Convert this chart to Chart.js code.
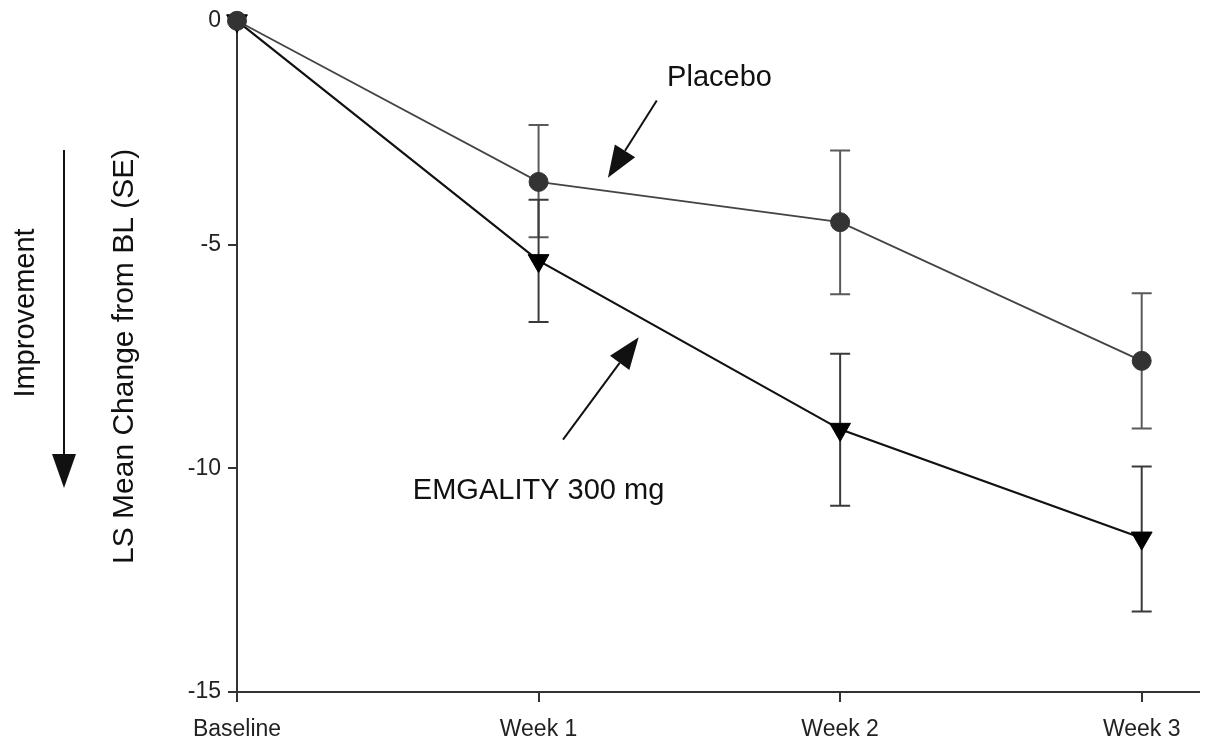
<!DOCTYPE html>
<html>
<head>
<meta charset="utf-8">
<script src="https://cdn.jsdelivr.net/npm/chart.js@4"></script>
<style>
  body { margin: 0; background: #fff; }
  canvas { display: block; }
</style>
</head>
<body>
<canvas id="chgChart" width="1212" height="744"></canvas>
<script>
// Visits on the x axis
const visits = ['Baseline', 'Week 1', 'Week 2', 'Week 3'];

// LS mean change from baseline, with SE bar ends
const placeboMean = [0, -3.6, -4.5, -7.6];
const placeboHigh = [0, -2.33, -2.9, -6.09];
const placeboLow  = [0, -4.84, -6.11, -9.11];

const emgalityMean = [0, -5.36, -9.13, -11.56];
const emgalityHigh = [0, -4.0, -7.44, -9.96];
const emgalityLow  = [0, -6.73, -10.84, -13.2];

const yTicks = [0, -5, -10, -15];

const FONT = 'Liberation Sans, Arial, Helvetica, sans-serif';

function toPoints(vals) {
    return vals.map((v, i) => ({ x: i, y: v }));
}

function arrow(ctx, x1, y1, x2, y2, headLen, headW) {
    const ang = Math.atan2(y2 - y1, x2 - x1);
    const bx = x2 - headLen * Math.cos(ang);
    const by = y2 - headLen * Math.sin(ang);
    ctx.beginPath();
    ctx.moveTo(x1, y1);
    ctx.lineTo(bx, by);
    ctx.stroke();
    ctx.beginPath();
    ctx.moveTo(x2, y2);
    ctx.lineTo(bx + headW / 2 * Math.sin(ang), by - headW / 2 * Math.cos(ang));
    ctx.lineTo(bx - headW / 2 * Math.sin(ang), by + headW / 2 * Math.cos(ang));
    ctx.closePath();
    ctx.fill();
}

// error bars under the markers, labels and arrows on top
const extras = {
    id: 'extras',
    beforeDatasetsDraw(chart) {
        const { ctx, scales: { x, y } } = chart;
        const bars = [
            [placeboHigh, placeboLow, '#5a5a5a'],
            [emgalityHigh, emgalityLow, '#3a3a3a']
        ];
        ctx.save();
        ctx.lineWidth = 2;
        bars.forEach(([hi, lo, col]) => {
            ctx.strokeStyle = col;
            for (let i = 1; i < visits.length; i++) {
                const px = x.getPixelForValue(i);
                const yh = y.getPixelForValue(hi[i]);
                const yl = y.getPixelForValue(lo[i]);
                ctx.beginPath();
                ctx.moveTo(px, yh); ctx.lineTo(px, yl);
                ctx.moveTo(px - 10, yh); ctx.lineTo(px + 10, yh);
                ctx.moveTo(px - 10, yl); ctx.lineTo(px + 10, yl);
                ctx.stroke();
            }
        });
        ctx.restore();
    },
    afterDraw(chart) {
        const { ctx, scales: { x, y } } = chart;
        ctx.save();
        ctx.fillStyle = '#111';
        ctx.strokeStyle = '#111';
        ctx.lineWidth = 2;
        ctx.font = '29px ' + FONT;
        ctx.textAlign = 'center';
        ctx.textBaseline = 'middle';

        ctx.fillText('Placebo', x.getPixelForValue(1.6), y.getPixelForValue(-1.27));
        arrow(ctx, x.getPixelForValue(1.392), y.getPixelForValue(-1.78),
                   x.getPixelForValue(1.23), y.getPixelForValue(-3.51), 32, 24);

        ctx.fillText('EMGALITY 300 mg', x.getPixelForValue(1.0), y.getPixelForValue(-10.5));
        arrow(ctx, x.getPixelForValue(1.081), y.getPixelForValue(-9.36),
                   x.getPixelForValue(1.332), y.getPixelForValue(-7.07), 32, 24);

        // "Improvement" with downward arrow left of the axis title
        ctx.save();
        ctx.translate(26, 313);
        ctx.rotate(-Math.PI / 2);
        ctx.fillText('Improvement', 0, 0);
        ctx.restore();
        arrow(ctx, 64, 150, 64, 488, 34, 24);
        ctx.restore();
    }
};

new Chart(document.getElementById('chgChart').getContext('2d'), {
    type: 'line',
    data: {
        datasets: [
            {
                label: 'Placebo',
                data: toPoints(placeboMean),
                borderColor: '#444',
                borderWidth: 1.8,
                pointStyle: 'circle',
                pointRadius: 9.5,
                pointBackgroundColor: '#333',
                pointBorderColor: '#333',
                pointBorderWidth: 1,
                clip: false
            },
            {
                label: 'EMGALITY 300 mg',
                data: toPoints(emgalityMean),
                borderColor: '#111',
                borderWidth: 2.2,
                pointStyle: 'triangle',
                rotation: 180,
                pointRadius: 12,
                pointBackgroundColor: '#000',
                pointBorderColor: '#000',
                pointBorderWidth: 1,
                clip: false
            }
        ]
    },
    options: {
        responsive: false,
        animation: false,
        layout: { padding: { top: 12, right: 0, bottom: 0, left: 0 } },
        plugins: {
            legend: { display: false },
            tooltip: { enabled: false }
        },
        scales: {
            x: {
                type: 'linear',
                min: 0,
                max: 3.19,
                afterBuildTicks: s => { s.ticks = visits.map((v, i) => ({ value: i })); },
                afterFit: s => { s.height = 52; },
                border: { display: true, color: '#333', width: 2 },
                grid: { display: true, drawOnChartArea: false, drawTicks: true, tickLength: 10, color: '#333', lineWidth: 2 },
                ticks: {
                    autoSkip: false,
                    maxRotation: 0,
                    padding: 14,
                    color: '#222',
                    font: { family: FONT, size: 23 },
                    callback: v => visits[v]
                }
            },
            y: {
                min: -15,
                max: 0,
                afterBuildTicks: s => { s.ticks = yTicks.map(v => ({ value: v })); },
                afterFit: s => { s.width = 237; },
                border: { display: true, color: '#333', width: 2 },
                grid: { display: true, drawOnChartArea: false, drawTicks: true, tickLength: 9, color: '#333', lineWidth: 2 },
                ticks: {
                    padding: 7,
                    color: '#222',
                    font: { family: FONT, size: 23 }
                },
                title: {
                    display: true,
                    text: 'LS Mean Change from BL (SE)',
                    color: '#111',
                    font: { family: FONT, size: 30 },
                    padding: { top: 107, bottom: 0 }
                }
            }
        }
    },
    plugins: [extras]
});
</script>
</body>
</html>
